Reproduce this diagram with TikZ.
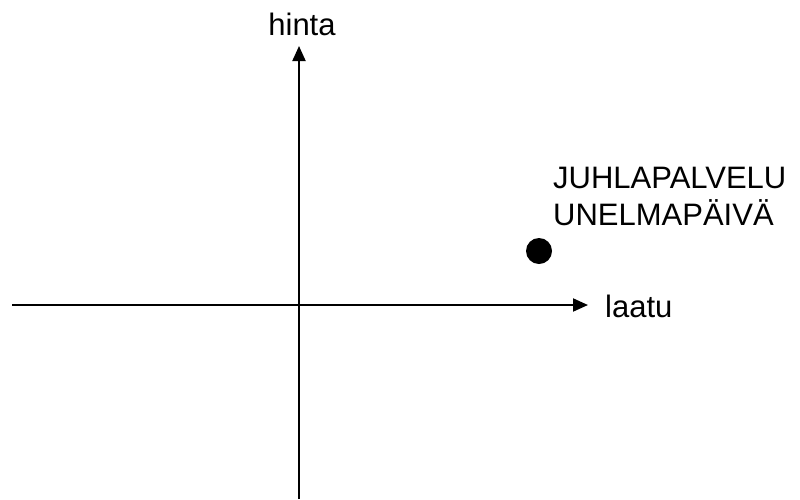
\documentclass[tikz,border=0pt]{standalone}
\usepackage{fontspec}
\setmainfont{Liberation Sans}
\usetikzlibrary{arrows.meta}
\begin{document}
\begin{tikzpicture}[x=1pt,y=-1pt,
  axis/.style={line width=2pt,-{Triangle[length=15pt,width=13pt]}},
  lbl/.style={inner sep=0pt,font=\fontsize{31}{37}\selectfont},
  dotnode/.style={circle,fill=black,minimum size=26pt,inner sep=0pt}]
\useasboundingbox (0,0) rectangle (800,499);
\coordinate (ybot) at (299,499);
\coordinate (ytop) at (299,46);
\coordinate (xleft) at (12,305);
\coordinate (xright) at (588,305);
\draw[axis] (ybot) -- (ytop);
\draw[axis] (xleft) -- (xright);
\node[lbl,anchor=base] (hinta) at (302,35) {hinta};
\node[lbl,anchor=base west] (laatu) at (605,317) {laatu};
\node[dotnode] (dot) at (539,251) {};
\node[lbl,anchor=base west] (l1) at (553,188) {JUHLAPALVELU};
\node[lbl,anchor=base west] (l2) at (553,225) {UNELMAPÄIVÄ};
\end{tikzpicture}
\end{document}
